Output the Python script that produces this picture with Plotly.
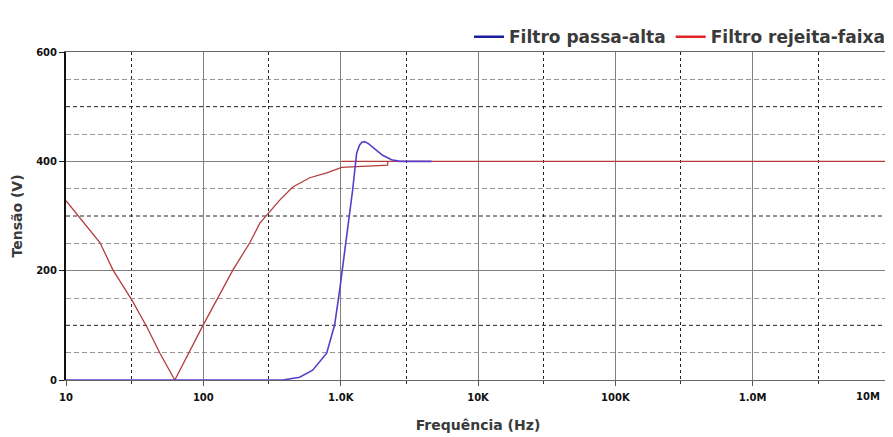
import plotly.graph_objects as go

# ---------------- data ----------------
freq_hp = [10, 200, 380, 503, 625, 791, 904, 984, 1035, 1107, 1162, 1223,
           1307, 1374, 1430, 1495, 1600, 1709, 2020, 2349, 2685, 4590]
volt_hp = [0, 0, 0, 5, 18, 49, 101, 165, 207, 262, 305, 348,
           415, 430, 435, 436, 432, 426, 411, 403, 400, 400]

freq_br = [10, 17.7, 22, 30.2, 38.8, 48.3, 62, 67.5, 99, 164, 218, 258,
           360, 448, 596, 791, 1017, 2197, 2197, 1017, 1e7]
volt_br = [328, 251, 201, 146, 97, 49, 0, 18, 99, 201, 251, 287,
           329, 353, 370, 379, 389, 393, 400, 400, 400]

x_tick_vals = [10, 100, 1000, 1e4, 1e5, 1e6, 1e7]
x_tick_text = ["10", "100", "1.0K", "10K", "100K", "1.0M", ""]
x_last_label = "10M"
x_minor_vals = [30, 300, 3000, 3e4, 3e5, 3e6]

y_tick_vals = [0, 200, 400, 600]
y_tick_text = ["0", "200", "400", "600"]
y_minor_light = [50, 150, 250, 350, 450, 550]
y_minor_dark = [100, 300, 500]

name_hp = "Filtro passa-alta"
name_br = "Filtro rejeita-faixa"

FONT = "DejaVu Sans"

fig = go.Figure()

# real curves
fig.add_trace(go.Scatter(x=freq_br, y=volt_br, mode="lines",
                         line=dict(color="#b43c3c", width=1.3),
                         showlegend=False, hoverinfo="skip"))
fig.add_trace(go.Scatter(x=freq_hp, y=volt_hp, mode="lines",
                         line=dict(color="#5a3cc8", width=1.6),
                         showlegend=False, hoverinfo="skip"))
# legend entries
fig.add_trace(go.Scatter(x=[None], y=[None], mode="lines", name=name_hp,
                         line=dict(color="#1c1ca0", width=2.5)))
fig.add_trace(go.Scatter(x=[None], y=[None], mode="lines", name=name_br,
                         line=dict(color="#e02424", width=2.5)))

for v in y_minor_dark:
    fig.add_hline(y=v, line=dict(color="#222222", width=1, dash="4px,3px"),
                  layer="below")

fig.update_layout(
    width=893, height=437,
    margin=dict(l=58, r=11, t=44, b=65, autoexpand=False),
    paper_bgcolor="white", plot_bgcolor="white",
    font=dict(family=FONT, color="#333333"),
    legend=dict(orientation="h", x=1.0, xanchor="right", y=1.045,
                yanchor="middle", font=dict(size=17, weight="bold", color="#3a3a3a"),
                bgcolor="rgba(0,0,0,0)", itemwidth=30, tracegroupgap=0),
    xaxis=dict(
        type="log", range=[1, 7], automargin=False,
        tickmode="array", tickvals=x_tick_vals, ticktext=x_tick_text,
        tickfont=dict(size=10, weight="bold", color="#111111"),
        ticks="outside", ticklen=5, tickcolor="#555555",
        ticklabelstandoff=3,
        showgrid=True, gridcolor="#808080", gridwidth=1,
        showline=True, linecolor="#666666", linewidth=1, mirror=True,
        zeroline=False, layer="below traces",
        minor=dict(tickvals=x_minor_vals, showgrid=True, gridcolor="#222222",
                   griddash="3px,3px", gridwidth=1, ticks="outside",
                   ticklen=3, tickcolor="#333333"),
        title=dict(text="Frequência (Hz)", standoff=18,
                   font=dict(size=14, weight="bold", color="#3a3a3a")),
    ),
    yaxis=dict(
        range=[0, 600], automargin=False,
        tickmode="array", tickvals=y_tick_vals, ticktext=y_tick_text,
        tickfont=dict(size=10, weight="bold", color="#111111"),
        ticks="outside", ticklen=5, tickcolor="#222222",
        showgrid=True, gridcolor="#808080", gridwidth=1,
        showline=True, linecolor="#111111", linewidth=2, mirror=True,
        zeroline=False, layer="below traces",
        minor=dict(tickvals=y_minor_light, showgrid=True, gridcolor="#9a9a9a",
                   griddash="5px,3px", gridwidth=1),
        title=dict(text="Tensão (V)", standoff=10,
                   font=dict(size=14, weight="bold", color="#3a3a3a")),
    ),
)

fig.add_annotation(text=x_last_label, xref="paper", yref="paper", x=1, y=0,
                   xanchor="right", yanchor="top", xshift=-8, yshift=-9,
                   showarrow=False,
                   font=dict(size=10, weight="bold", color="#111111", family=FONT))

fig.write_html("out.html")
